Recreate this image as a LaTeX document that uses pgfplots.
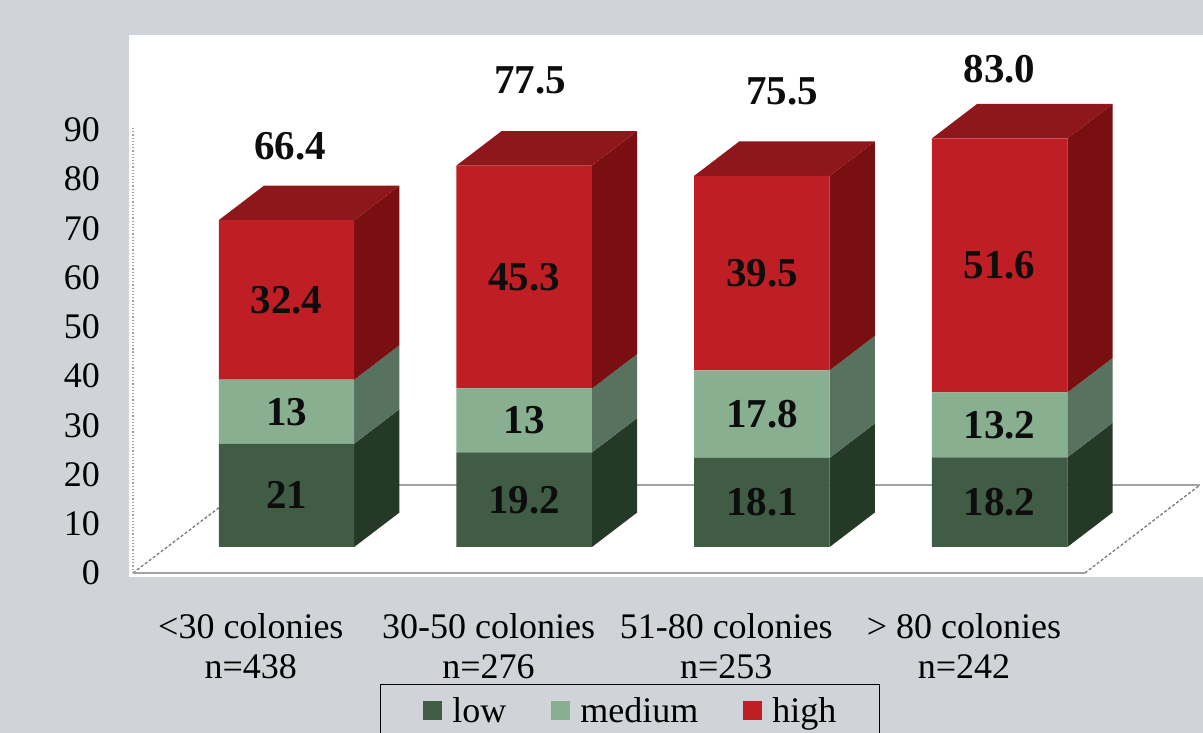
\documentclass[border=0pt]{standalone}
\usepackage{fontspec}
\setmainfont{Liberation Serif}
\usepackage{pgfplots}
\pgfplotsset{compat=1.18}
\definecolor{bg}{HTML}{D0D3D7}
\definecolor{lowf}{HTML}{415C45}
\definecolor{lows}{HTML}{253A26}
\definecolor{medf}{HTML}{87AF90}
\definecolor{meds}{HTML}{57725F}
\definecolor{highf}{HTML}{C01E25}
\definecolor{highs}{HTML}{7A0F12}
\definecolor{hight}{HTML}{8E171B}
\definecolor{floorc}{HTML}{A3A3A3}
\tikzset{lbl/.style={font=\fontsize{41bp}{45bp}\selectfont\bfseries, inner sep=0pt, text=black!95}}
\begin{document}
\begin{tikzpicture}[x=1bp,y=1bp]
\clip (0,0) rectangle (1203,733);
\fill[bg] (0,0) rectangle (1203,733);
\pgfplotsset{myaxis/.style={at={(129bp,156bp)}, anchor=south west, scale only axis,
  width=1074bp, height=542bp, xmin=-0.6626, xmax=3.8557, ymin=-6.095, ymax=104.02,
  axis line style={draw=none}, tick style={draw=none}, clip=false}}
% ---- axis 1: walls, floor, depth faces, tick labels
\begin{axis}[myaxis, axis background/.style={fill=white},
  ytick={-5.28,4.72,14.72,24.72,34.72,44.72,54.72,64.72,74.72,84.72},
  yticklabels={0,10,20,30,40,50,60,70,80,90},
  xtick={-0.15,0.85,1.85,2.85},
  xticklabels={{<30 colonies\\n=438},{30-50 colonies\\n=276},{51-80 colonies\\n=253},{> 80 colonies\\n=242}},
  xticklabel style={align=center, font=\fontsize{36bp}{40bp}\selectfont, inner sep=0pt, anchor=north, yshift=-36bp},
  yticklabel style={font=\fontsize{36bp}{40bp}\selectfont, inner sep=0pt, anchor=east, xshift=-29bp},
  /pgf/number format/assume math mode=true]
% floor and wall
\addplot[floorc, line width=1.2bp, dotted] coordinates {(-0.646,-5.28) (-0.646,85.1)};
\addplot[floorc, line width=1.5bp] coordinates {(-0.158,12.6) (3.843,12.6)};
\addplot[floorc!75!black, line width=1.3bp, dash pattern=on 3bp off 2bp] coordinates {(-0.646,-5.28) (-0.158,12.6)};
\addplot[floorc!75!black, line width=1.3bp, dash pattern=on 3bp off 2bp] coordinates {(3.359,-5.28) (3.843,12.6)};
\addplot[floorc, line width=1.5bp] coordinates {(-0.646,-5.28) (3.359,-5.28)};
% side faces (depth) of the stacked bars
\addplot[fill=lows, draw=none] coordinates {(0.285,0)(0.285,21)(0.475,28)(0.475,7)};
\addplot[fill=meds, draw=none] coordinates {(0.285,21)(0.285,34)(0.475,41)(0.475,28)};
\addplot[fill=highs, draw=none] coordinates {(0.285,34)(0.285,66.4)(0.475,73.4)(0.475,41)};
\addplot[fill=hight, draw=none] coordinates {(-0.285,66.4)(0.285,66.4)(0.475,73.4)(-0.095,73.4)};
\addplot[fill=lows, draw=none] coordinates {(1.285,0)(1.285,19.2)(1.475,26.2)(1.475,7)};
\addplot[fill=meds, draw=none] coordinates {(1.285,19.2)(1.285,32.2)(1.475,39.2)(1.475,26.2)};
\addplot[fill=highs, draw=none] coordinates {(1.285,32.2)(1.285,77.5)(1.475,84.5)(1.475,39.2)};
\addplot[fill=hight, draw=none] coordinates {(0.715,77.5)(1.285,77.5)(1.475,84.5)(0.905,84.5)};
\addplot[fill=lows, draw=none] coordinates {(2.285,0)(2.285,18.1)(2.475,25.1)(2.475,7)};
\addplot[fill=meds, draw=none] coordinates {(2.285,18.1)(2.285,35.9)(2.475,42.9)(2.475,25.1)};
\addplot[fill=highs, draw=none] coordinates {(2.285,35.9)(2.285,75.4)(2.475,82.4)(2.475,42.9)};
\addplot[fill=hight, draw=none] coordinates {(1.715,75.4)(2.285,75.4)(2.475,82.4)(1.905,82.4)};
\addplot[fill=lows, draw=none] coordinates {(3.285,0)(3.285,18.2)(3.475,25.2)(3.475,7)};
\addplot[fill=meds, draw=none] coordinates {(3.285,18.2)(3.285,31.4)(3.475,38.4)(3.475,25.2)};
\addplot[fill=highs, draw=none] coordinates {(3.285,31.4)(3.285,83)(3.475,90)(3.475,38.4)};
\addplot[fill=hight, draw=none] coordinates {(2.715,83)(3.285,83)(3.475,90)(2.905,90)};
\end{axis}
% ---- axis 2: stacked front faces, legend
\begin{axis}[myaxis, ybar stacked, bar width=0.57, xtick=\empty, ytick=\empty,
  legend columns=3, legend cell align=left,
  legend image code/.code={\fill[#1, draw=none] (0bp,-9.5bp) rectangle (19bp,9.5bp);},
  legend style={at={(0.2337,-0.1974)}, anchor=north west, draw=black, line width=0.8bp, fill=bg,
    font=\fontsize{36bp}{40bp}\selectfont, inner xsep=43bp, inner ysep=13bp,
    nodes={inner sep=0pt},
    /tikz/every even column/.append style={column sep=45bp},
    /tikz/every odd column/.append style={column sep=10bp}}]
\addplot[fill=lowf, draw=none] coordinates {(0,21) (1,19.2) (2,18.1) (3,18.2)};
\addplot[fill=medf, draw=none] coordinates {(0,13) (1,13) (2,17.8) (3,13.2)};
\addplot[fill=highf, draw=none] coordinates {(0,32.4) (1,45.3) (2,39.5) (3,51.6)};
\legend{low,medium,high}
\end{axis}
% ---- axis 3: value labels
\begin{axis}[myaxis, xtick=\empty, ytick=\empty]
\node[lbl] at (axis cs:0,10.5) {21};
\node[lbl] at (axis cs:0,27.5) {13};
\node[lbl] at (axis cs:0,50.2) {32.4};
\node[lbl] at (axis cs:1,9.6) {19.2};
\node[lbl] at (axis cs:1,25.7) {13};
\node[lbl] at (axis cs:1,54.85) {45.3};
\node[lbl] at (axis cs:2,9.05) {18.1};
\node[lbl] at (axis cs:2,27.0) {17.8};
\node[lbl] at (axis cs:2,55.65) {39.5};
\node[lbl] at (axis cs:3,9.1) {18.2};
\node[lbl] at (axis cs:3,24.8) {13.2};
\node[lbl] at (axis cs:3,57.2) {51.6};
\node[lbl] at (axis cs:0.015,81.4) {66.4};
\node[lbl] at (axis cs:1.024,94.7) {77.5};
\node[lbl] at (axis cs:2.085,92.5) {75.5};
\node[lbl] at (axis cs:3.0,97.1) {83.0};
\end{axis}
\end{tikzpicture}
\end{document}
